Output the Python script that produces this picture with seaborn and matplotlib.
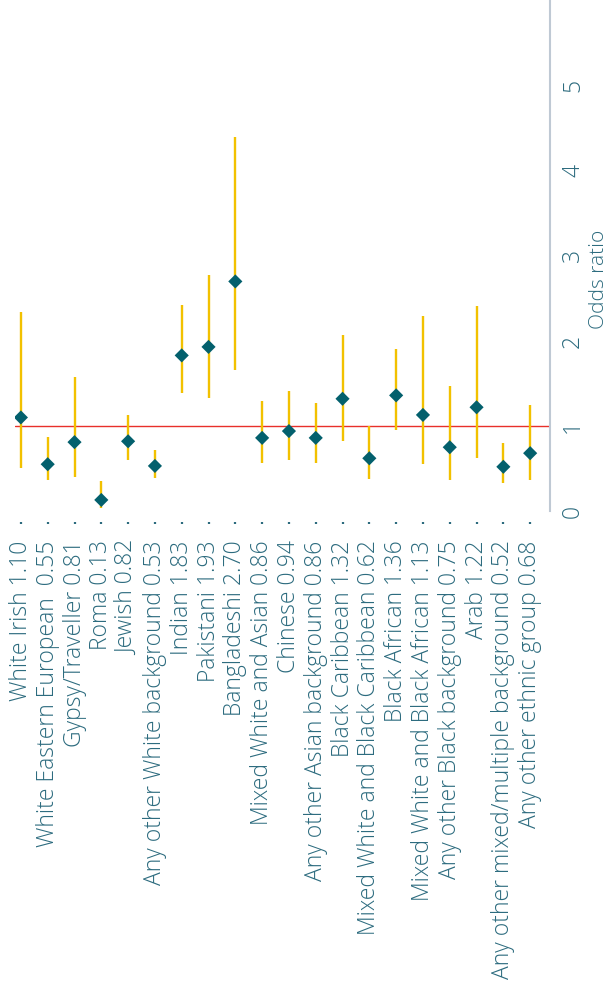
import matplotlib
matplotlib.use("Agg")
import matplotlib.pyplot as plt
import seaborn as sns
import pandas as pd

groups = ["White Irish", "White Eastern European ", "Gypsy/Traveller", "Roma", "Jewish",
          "Any other White background", "Indian", "Pakistani", "Bangladeshi",
          "Mixed White and Asian", "Chinese", "Any other Asian background",
          "Black Caribbean", "Mixed White and Black Caribbean", "Black African",
          "Mixed White and Black African", "Any other Black background", "Arab",
          "Any other mixed/multiple background", "Any other ethnic group"]
odds = [1.10, 0.55, 0.81, 0.13, 0.82, 0.53, 1.83, 1.93, 2.70, 0.86,
        0.94, 0.86, 1.32, 0.62, 1.36, 1.13, 0.75, 1.22, 0.52, 0.68]
ci_low = [0.51, 0.36, 0.40, 0.04, 0.60, 0.39, 1.39, 1.33, 1.66, 0.56,
          0.60, 0.56, 0.82, 0.38, 0.95, 0.55, 0.36, 0.62, 0.33, 0.36]
ci_high = [2.34, 0.87, 1.58, 0.35, 1.13, 0.72, 2.42, 2.78, 4.40, 1.29,
           1.41, 1.27, 2.07, 1.00, 1.91, 2.29, 1.47, 2.41, 0.80, 1.25]
yticks = [0, 1, 2, 3, 4, 5]

labels = [f"{g} {v:.2f}" for g, v in zip(groups, odds)]
df = pd.DataFrame({"label": labels, "odds": odds, "lo": ci_low, "hi": ci_high})

sns.set_theme(style="white")
plt.rcParams["font.family"] = ["Open Sans", "DejaVu Sans"]

TEXT = "#2c6b7e"
fig = plt.figure(figsize=(6.11, 9.90), dpi=100)
ax = fig.add_axes([15/611, 1-511/990, 535/611, 511/990])

ax.vlines(df["label"], df["lo"], df["hi"], color="#f2c100", lw=1.7, zorder=2)
ax.axhline(1, color="#e8302a", lw=1.0, zorder=1)
sns.scatterplot(data=df, x="label", y="odds", marker="D", s=52, color="#03606d",
                edgecolor="none", ax=ax, zorder=3)

ax.set_xlim(-0.22, 19.74)
ax.set_ylim(0, 6.01)
ax.set_yticks(yticks)
ax.set_xlabel("")
ax.set_ylabel("Odds ratio", fontsize=15, color=TEXT, fontweight="light")

for s in ["top", "left"]:
    ax.spines[s].set_visible(False)
ax.spines["bottom"].set_position(("outward", 8))
ax.spines["bottom"].set_visible(False)
ax.spines["right"].set_color("#bfc9d4")
ax.spines["right"].set_linewidth(1.5)

ax.yaxis.tick_right()
ax.yaxis.set_label_position("right")
ax.yaxis.set_label_coords((589-15)/535, (511-279)/511)
ax.tick_params(axis="y", length=0, pad=8, labelsize=16.5, labelcolor=TEXT, labelrotation=90)
for t in ax.get_yticklabels():
    t.set_va("center")
    t.set_fontweight("light")
ax.tick_params(axis="x", bottom=True, length=1.2, width=1.6, color=TEXT, direction="out",
               pad=12, labelsize=16.5, labelcolor=TEXT, labelrotation=90)
for t in ax.get_xticklabels():
    t.set_ha("center")
    t.set_va("top")
    t.set_fontweight("light")

fig.savefig("out.png", dpi=100)
